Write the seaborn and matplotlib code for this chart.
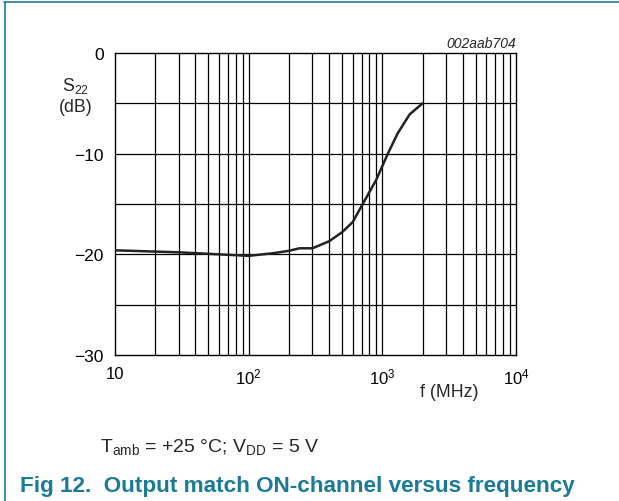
import matplotlib
matplotlib.use("Agg")
import matplotlib.pyplot as plt
from matplotlib.lines import Line2D
import pandas as pd
import seaborn as sns

# S22 output match of the ON channel versus frequency
freq_mhz = [10, 30, 100, 150, 200, 240, 300, 400, 500, 600, 700, 900, 1100, 1300, 1600, 2000]
s22_db = [-19.6, -19.8, -20.15, -19.9, -19.65, -19.4, -19.4, -18.7, -17.8, -16.8, -15.2,
          -12.6, -10.0, -8.0, -6.1, -5.0]

x_ticks = [10, 100, 1000, 10000]
x_tick_labels = ["10", "10$^{2}$", "10$^{3}$", "10$^{4}$"]
y_ticks = [0, -10, -20, -30]
y_tick_labels = ["0", "\u221210", "\u221220", "\u221230"]

teal = "#1b7a97"

sns.set_style("white")
plt.rcParams["font.family"] = ["Liberation Sans", "DejaVu Sans"]
plt.rcParams["mathtext.default"] = "regular"

fig = plt.figure(figsize=(6.19, 5.02), dpi=100)
ax = fig.add_axes([115 / 619, 1 - 356 / 502, (516 - 115) / 619, (356 - 54) / 502])

df = pd.DataFrame({"f": freq_mhz, "s22": s22_db})
sns.lineplot(data=df, x="f", y="s22", ax=ax, color="#222222", linewidth=1.8, zorder=5)

ax.set_xscale("log")
ax.set_xlim(10, 10000)
ax.set_ylim(-30, 0)

# grid: every log subdivision vertically, every 5 dB horizontally
for dec in (10, 100, 1000):
    for m in range(1, 10):
        v = dec * m
        if 10 < v < 10000:
            ax.axvline(v, color="black", linewidth=0.9, zorder=1)
for yv in range(-25, 0, 5):
    ax.axhline(yv, color="black", linewidth=0.9, zorder=1)

for s in ax.spines.values():
    s.set_color("black")
    s.set_linewidth(1.0)

ax.set_xticks(x_ticks)
ax.set_xticklabels(x_tick_labels)
ax.set_xticks([], minor=True)
ax.set_yticks(y_ticks)
ax.set_yticklabels(y_tick_labels)
ax.tick_params(axis="both", length=0, colors="black")
ax.tick_params(axis="x", labelsize=12, pad=8)
ax.tick_params(axis="y", labelsize=12.5, pad=8)
ax.set_xlabel("")
ax.set_ylabel("")

fig.text(76 / 619, 1 - 96 / 502, "S$_{22}$\n(dB)", ha="center", va="center",
         fontsize=12.8, linespacing=1.2)
fig.text(449 / 619, 1 - 393 / 502, "f (MHz)", ha="center", va="center", fontsize=12.8)
fig.text(516 / 619, 1 - 44 / 502, "002aab704", ha="right", va="center",
         fontsize=10, style="italic")

fig.text(100 / 619, 1 - 452 / 502, "T$_{amb}$ = +25 \u00b0C; V$_{DD}$ = 5 V",
         ha="left", va="baseline", fontsize=14)
fig.text(20 / 619, 1 - 492 / 502, "Fig 12.  Output match ON-channel versus frequency",
         ha="left", va="baseline", fontsize=16.2, fontweight="bold", color=teal)

# frame lines along the top and left edge
fig.add_artist(Line2D([4 / 619, 1], [1 - 2.5 / 502, 1 - 2.5 / 502], color=teal,
                      linewidth=1.2, transform=fig.transFigure))
fig.add_artist(Line2D([4.5 / 619, 4.5 / 619], [0, 1 - 2.5 / 502], color=teal,
                      linewidth=1.2, transform=fig.transFigure))

fig.savefig("out.png", dpi=100)
